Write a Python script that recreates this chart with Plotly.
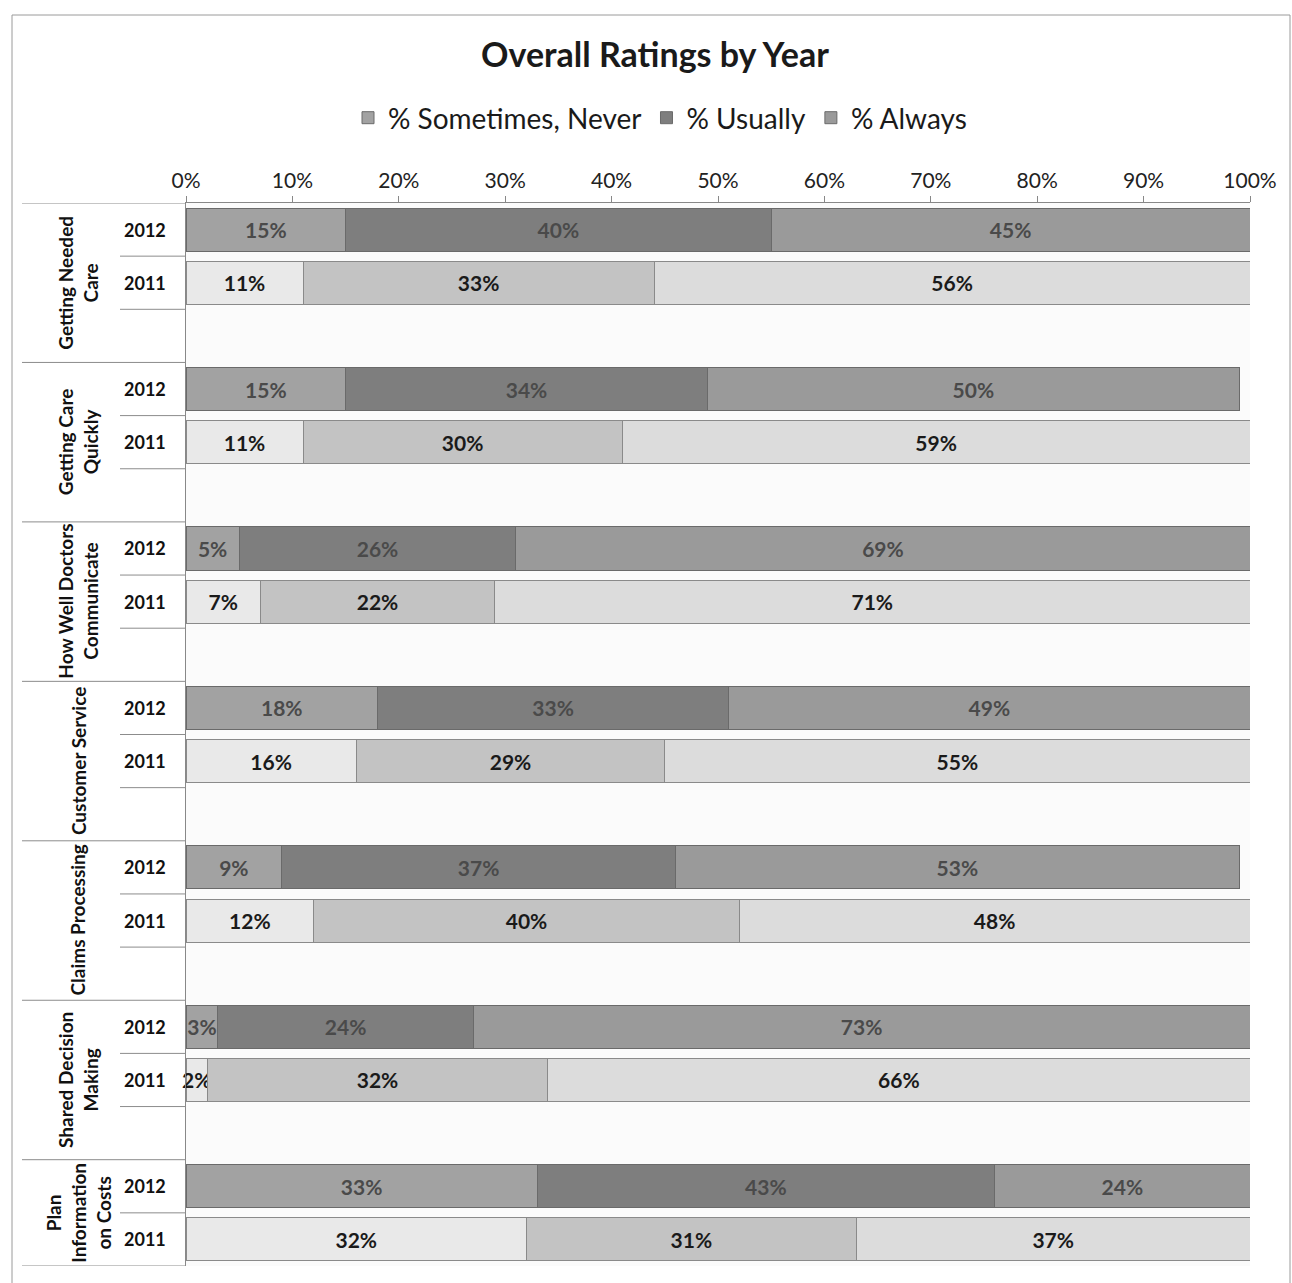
import plotly.graph_objects as go

# Survey measures, top to bottom
measures = [
    "Getting Needed<br>Care",
    "Getting Care<br>Quickly",
    "How Well Doctors<br>Communicate",
    "Customer Service",
    "Claims Processing",
    "Shared Decision<br>Making",
    "Plan<br>Information<br>on Costs",
]
years = ["2012", "2011"]
series = ["% Sometimes, Never", "% Usually", "% Always"]

# Percent of respondents per measure (same order as `measures`)
sometimes_2012 = [15, 15, 5, 18, 9, 3, 33]
usually_2012 = [40, 34, 26, 33, 37, 24, 43]
always_2012 = [45, 50, 69, 49, 53, 73, 24]

sometimes_2011 = [11, 11, 7, 16, 12, 2, 32]
usually_2011 = [33, 30, 22, 29, 40, 32, 31]
always_2011 = [56, 59, 71, 55, 48, 66, 37]

tick_values = [0, 10, 20, 30, 40, 50, 60, 70, 80, 90, 100]
tick_labels = [f"{v}%" for v in tick_values]

colors_2012 = ["#a2a2a2", "#7e7e7e", "#9a9a9a"]
colors_2011 = ["#e9e9e9", "#c3c3c3", "#dcdcdc"]

FONT = "Lato"

# each measure occupies three rows: 2012, 2011, spacer (last one has no spacer)
n = len(measures)
rows_2012 = [3 * g for g in range(n)]
rows_2011 = [3 * g + 1 for g in range(n)]

fig = go.Figure()

data_2012 = [sometimes_2012, usually_2012, always_2012]
data_2011 = [sometimes_2011, usually_2011, always_2011]

for i, name in enumerate(series):
    fig.add_trace(go.Bar(
        x=data_2012[i], y=rows_2012, orientation="h", name=name,
        legendgroup=name, showlegend=True, cliponaxis=False,
        marker=dict(color=colors_2012[i], line=dict(color="#6a6a6a", width=1)),
        text=[f"{v}%" for v in data_2012[i]],
        textposition="inside", insidetextanchor="middle", textangle=0,
        textfont=dict(family=FONT, size=21, color="#4a4a4a", weight="bold"),
        constraintext="none",
    ))
    fig.add_trace(go.Bar(
        x=data_2011[i], y=rows_2011, orientation="h", name=name,
        legendgroup=name, showlegend=False, cliponaxis=False,
        marker=dict(color=colors_2011[i], line=dict(color="#8a8a8a", width=1)),
        text=[f"{v}%" for v in data_2011[i]],
        textposition="inside", insidetextanchor="middle", textangle=0,
        textfont=dict(family=FONT, size=21, color="#1a1a1a", weight="bold"),
        constraintext="none",
    ))

L, R, T, B = 186, 42, 203, 17
W, H = 1292, 1283
pw = W - L - R
ph = H - T - B


def px_to_paper_x(px):
    return (px - L) / pw


def px_to_paper_y(py):
    return (H - B - py) / ph


shapes = []
annotations = []

# group separators and year separators on the category axis
for g in range(n):
    top = 3 * g - 0.5
    shapes.append(dict(type="line", xref="paper", yref="y",
                       x0=px_to_paper_x(22), x1=0, y0=top, y1=top,
                       line=dict(color="#8c8c8c", width=1)))
    shapes.append(dict(type="line", xref="paper", yref="y",
                       x0=px_to_paper_x(120), x1=0, y0=top + 1, y1=top + 1,
                       line=dict(color="#8c8c8c", width=1)))
    if g < n - 1:
        shapes.append(dict(type="line", xref="paper", yref="y",
                           x0=px_to_paper_x(120), x1=0, y0=top + 2, y1=top + 2,
                           line=dict(color="#8c8c8c", width=1)))
    center = 3 * g + 1 if g < n - 1 else 3 * g + 0.5
    annotations.append(dict(xref="paper", yref="y", x=px_to_paper_x(78), y=center,
                            xanchor="center", yanchor="middle",
                            text=measures[g], textangle=-90, showarrow=False,
                            font=dict(family=FONT, size=19, color="#111", weight="bold"),
                            align="center"))
    for r, yr in zip((3 * g, 3 * g + 1), years):
        annotations.append(dict(xref="paper", yref="y", x=px_to_paper_x(145), y=r,
                                xanchor="center", yanchor="middle",
                                text=yr, showarrow=False,
                                font=dict(family=FONT, size=18, color="#111", weight="bold")))

bottom = 3 * (n - 1) + 1.5
shapes.append(dict(type="line", xref="paper", yref="y",
                   x0=px_to_paper_x(22), x1=0, y0=bottom, y1=bottom,
                   line=dict(color="#8c8c8c", width=1)))

# chart frame (bottom edge runs past the page)
shapes.append(dict(type="rect", xref="paper", yref="paper",
                   x0=px_to_paper_x(12), x1=px_to_paper_x(1290),
                   y0=px_to_paper_y(1300), y1=px_to_paper_y(15),
                   line=dict(color="#9a9a9a", width=1), fillcolor="rgba(0,0,0,0)"))

fig.update_layout(
    width=W, height=H,
    barmode="stack", bargap=0.19,
    paper_bgcolor="white", plot_bgcolor="#fbfbfb",
    margin=dict(l=L, r=R, t=T, b=B),
    title=dict(text="<b>Overall Ratings by Year</b>", x=px_to_paper_x(655), xref="paper",
               xanchor="center", y=1 - 55 / H, yanchor="middle",
               font=dict(family=FONT, size=34, color="#1a1a1a")),
    legend=dict(orientation="h", x=px_to_paper_x(660), xanchor="center",
                y=px_to_paper_y(118), yanchor="middle",
                font=dict(family=FONT, size=28, color="#1a1a1a"),
                traceorder="normal", itemwidth=30),
    uniformtext=dict(minsize=21, mode="show"),
    xaxis=dict(side="top", range=[0, 100], tickvals=tick_values, ticktext=tick_labels,
               showgrid=False, zeroline=False, ticks="outside", ticklen=6,
               tickcolor="#888", showline=True, linecolor="#888", linewidth=1,
               tickfont=dict(family=FONT, size=21, color="#222")),
    yaxis=dict(range=[bottom, -0.5], showticklabels=False, showgrid=False,
               zeroline=False, showline=True, linecolor="#888", linewidth=1, ticks=""),
    shapes=shapes,
    annotations=annotations,
)

fig.write_html("out.html")
